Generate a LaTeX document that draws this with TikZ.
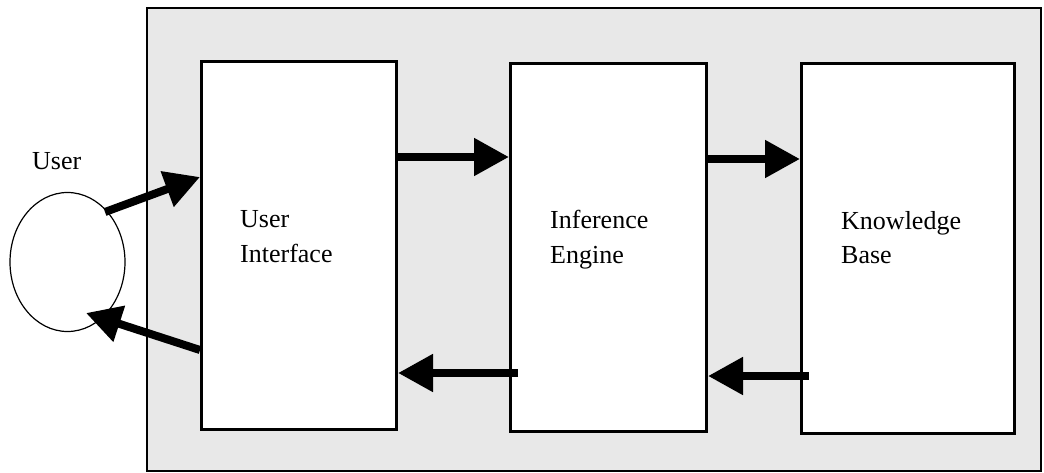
\documentclass[tikz,border=0pt]{standalone}
\usepackage{fontspec}
\setmainfont{Liberation Serif}
\usetikzlibrary{arrows.meta,shapes.geometric}
\begin{document}
\begin{tikzpicture}[x=1pt,y=-1pt,
  box/.style={draw=black,line width=3pt,fill=white,rectangle,inner sep=0pt},
  lbl/.style={anchor=base west,inner sep=0pt,font=\fontsize{26}{35}\selectfont},
  arr/.style={line width=8pt,-{Triangle[length=35pt,width=36pt]}}]
\useasboundingbox (0,0) rectangle (1044,472);
\node[draw=black,line width=2pt,fill=black!9,minimum width=894pt,minimum height=463pt,anchor=north west,inner sep=0pt] (frame) at (146,7) {};
\node[box,minimum width=195pt,minimum height=368pt,anchor=north west] (ui) at (200,60) {};
\node[box,minimum width=196pt,minimum height=368pt,anchor=north west] (ie) at (509,62) {};
\node[box,minimum width=213pt,minimum height=370pt,anchor=north west] (kb) at (800,62) {};
\node[draw=black,line width=1.2pt,fill=white,ellipse,minimum width=115pt,minimum height=139pt,inner sep=0pt] (user) at (67.5,262) {};
\node[lbl] (userlbl) at (32,169) {User};
\node[lbl] (ui1) at (240,227) {User};
\node[lbl] (ui2) at (240,262) {Interface};
\node[lbl] (ie1) at (550,228) {Inference};
\node[lbl] (ie2) at (550,263) {Engine};
\node[lbl] (kb1) at (841,229) {Knowledge};
\node[lbl] (kb2) at (841,263) {Base};
\coordinate (u1) at (105,212);
\coordinate (u2) at (86,313);
\coordinate (t1) at (0,177);
\coordinate (s2) at (0,350);
\coordinate (top1) at (0,157);
\coordinate (top2) at (0,159);
\coordinate (bot1) at (518,373);
\coordinate (bot2) at (809,376);
\draw[arr] (u1) -- (ui.west |- t1);
\draw[arr] (ui.west |- s2) -- (u2);
\draw[arr] (ui.east |- top1) -- (ie.west |- top1);
\draw[arr] (ie.east |- top2) -- (kb.west |- top2);
\draw[arr] (bot2) -- (ie.east |- bot2);
\draw[arr] (bot1) -- (ui.east |- bot1);
\end{tikzpicture}
\end{document}
